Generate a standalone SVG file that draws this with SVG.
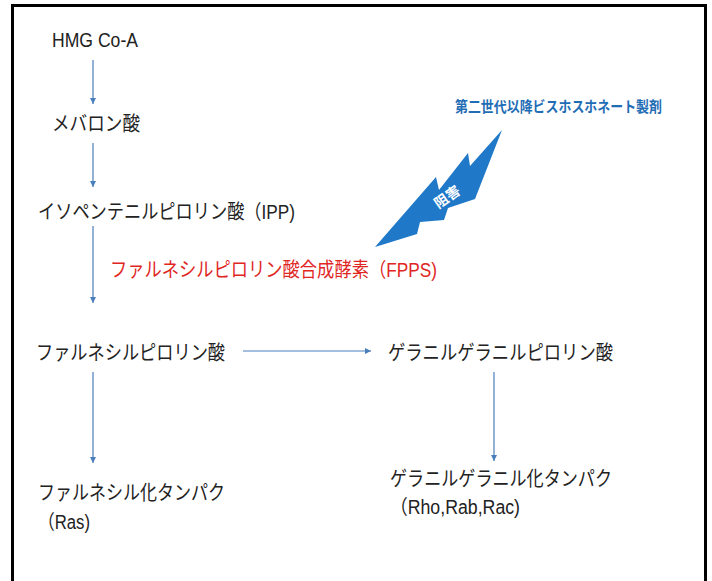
<svg xmlns="http://www.w3.org/2000/svg" width="712" height="581" viewBox="0 0 712 581">
<style>
.t{font-family:"Liberation Sans","Noto Sans CJK JP",sans-serif;font-size:20px;fill:#222}
.r{fill:#E0261F}
.b{font-family:"Noto Sans CJK JP",sans-serif;font-size:15px;font-weight:bold;fill:#1F6DB5}
.w{font-family:"Noto Sans CJK JP",sans-serif;font-size:14px;font-weight:bold;fill:#fff}
.c{stroke:#4A7EBB;stroke-width:1.2;fill:none}
</style>
<defs>
<marker id="ah" markerWidth="8" markerHeight="8" refX="6" refY="3" orient="auto" markerUnits="userSpaceOnUse">
<path d="M0,0 L6,3 L0,6 Z" fill="#4A7EBB"/>
</marker>
</defs>
<rect x="0" y="0" width="712" height="581" fill="#fff"/>
<rect x="12.5" y="5.5" width="693" height="590" fill="none" stroke="#000" stroke-width="3"/>
<g id="connectors">
<line class="c" x1="93" y1="60" x2="93" y2="104" marker-end="url(#ah)"/>
<line class="c" x1="93" y1="143" x2="93" y2="187" marker-end="url(#ah)"/>
<line class="c" x1="93" y1="226" x2="93" y2="303" marker-end="url(#ah)"/>
<line class="c" x1="243" y1="351" x2="371" y2="351" marker-end="url(#ah)"/>
<line class="c" x1="93" y1="372" x2="93" y2="463" marker-end="url(#ah)"/>
<line class="c" x1="494" y1="372" x2="494" y2="461" marker-end="url(#ah)"/>
</g>
<g id="hmg"><text class="t" x="52" y="47" textLength="86" lengthAdjust="spacingAndGlyphs">HMG Co-A</text></g>
<g id="mevalonate"><text class="t" x="52" y="131" textLength="88" lengthAdjust="spacingAndGlyphs">メバロン酸</text></g>
<g id="ipp"><text class="t" x="38" y="219" textLength="257" lengthAdjust="spacingAndGlyphs">イソペンテニルピロリン酸（IPP)</text></g>
<g id="fpps"><text class="t r" x="110" y="277" textLength="327" lengthAdjust="spacingAndGlyphs">ファルネシルピロリン酸合成酵素（FPPS)</text></g>
<g id="fpp"><text class="t" x="36" y="360" textLength="189" lengthAdjust="spacingAndGlyphs">ファルネシルピロリン酸</text></g>
<g id="ggpp"><text class="t" x="388" y="360" textLength="225" lengthAdjust="spacingAndGlyphs">ゲラニルゲラニルピロリン酸</text></g>
<g id="farnesylated"><text class="t" x="38" y="500" textLength="187" lengthAdjust="spacingAndGlyphs">ファルネシル化タンパク</text>
<text class="t" x="38" y="529" textLength="52" lengthAdjust="spacingAndGlyphs">（Ras)</text></g>
<g id="geranylgeranylated"><text class="t" x="390" y="486" textLength="222" lengthAdjust="spacingAndGlyphs">ゲラニルゲラニル化タンパク</text>
<text class="t" x="390" y="514" textLength="130" lengthAdjust="spacingAndGlyphs">（Rho,Rab,Rac)</text></g>
<g id="bisphosphonate"><text class="b" x="455" y="112" textLength="207" lengthAdjust="spacingAndGlyphs">第二世代以降ビスホスホネート製剤</text></g>
<g id="inhibition">
<polygon points="502,130 475,199 448,208 444,220 420,222 417,234 375,247 436,177 439,190 468,153 470,166" fill="#1F78C8"/>
<text class="w" x="0" y="0" text-anchor="middle" transform="translate(450,201) rotate(-35)">阻害</text>
</g>
</svg>
